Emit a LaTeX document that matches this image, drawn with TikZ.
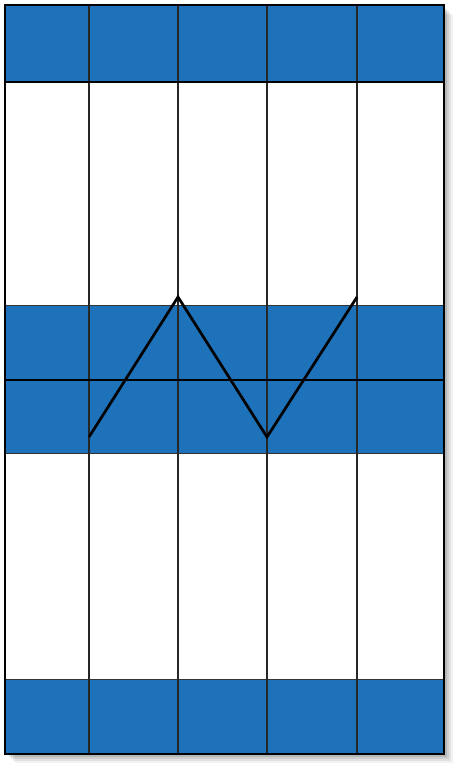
\documentclass[tikz,border=0pt]{standalone}
\definecolor{bandblue}{RGB}{30,114,186}
\begin{document}
\begin{tikzpicture}[x=1pt,y=-1pt,
  band/.style={fill=bandblue,draw=black!80,line width=0.8pt},
  gridline/.style={draw=black!85,line width=1.3pt},
  zig/.style={draw=black,line width=2.7pt,line join=miter}]
\useasboundingbox (0,0) rectangle (458,769);
% shadow
\foreach \d/\o in {10/0.05,8/0.07,6/0.09,4/0.11,2/0.12}{
  \fill[black,opacity=\o] (5+\d,5+\d) rectangle (444+\d-1,754+\d-1);
}
\fill[white] (5,5) rectangle (444,754);
% bands
\path[band] (5,5) rectangle (444,82);
\path[band] (5,305) rectangle (444,380);
\path[band] (5,380) rectangle (444,453);
\path[band] (5,679) rectangle (444,754);
% vertical lines
\foreach \x in {89,178,267,357}{
  \draw[gridline] (\x,5) -- (\x,754);
}
% horizontal strong lines
\draw[line width=1.8pt] (5,380) -- (444,380);
\draw[line width=1.5pt] (5,82) -- (444,82);
% zigzag
\coordinate (z1) at (89,437);
\coordinate (z2) at (178,297);
\coordinate (z3) at (267,437);
\coordinate (z4) at (357,297);
\draw[zig] (z1) -- (z2) -- (z3) -- (z4);
% frame
\draw[line width=2.4pt] (5,5) rectangle (444,754);
\end{tikzpicture}
\end{document}
